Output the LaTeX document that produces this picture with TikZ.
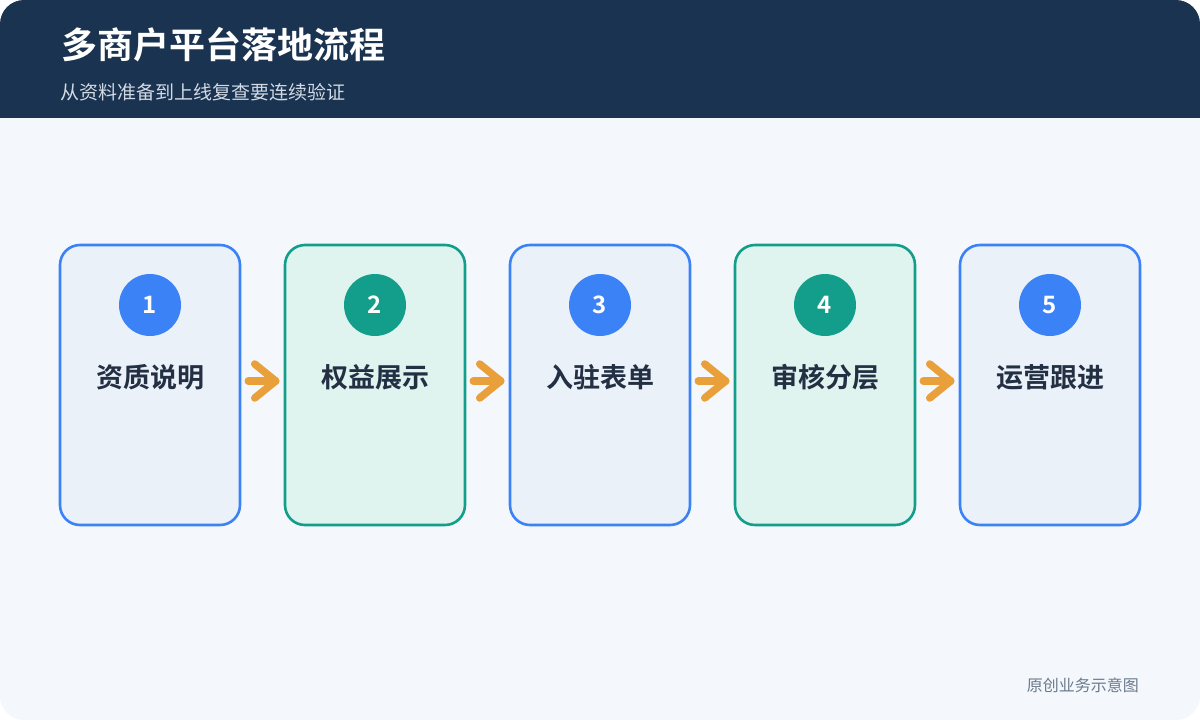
\documentclass[tikz,border=0pt]{standalone}
\usepackage{fontspec}
\setmainfont{Noto Sans CJK SC}
\newfontfamily\cjkb{Noto Sans CJK SC Bold}
\definecolor{hdr}{HTML}{1A3350}
\definecolor{bodybg}{HTML}{F4F8FD}
\definecolor{bblue}{HTML}{3B82F6}
\definecolor{fblue}{HTML}{EAF1F9}
\definecolor{bgreen}{HTML}{129E8A}
\definecolor{fgreen}{HTML}{DFF3EF}
\definecolor{arr}{HTML}{E9A03B}
\definecolor{txt}{HTML}{233044}
\definecolor{sub}{HTML}{D2DAE5}
\definecolor{foot}{HTML}{6B7A8C}
\tikzset{
  card/.style={draw=#1, line width=2.6pt, rounded corners=20pt, minimum width=180pt, minimum height=280pt, inner sep=0pt},
  numc/.style={circle, fill=#1, minimum size=62pt, inner sep=0pt, text=white, font=\cjkb\fontsize{24}{24}\selectfont},
  lbl/.style={text=txt, font=\cjkb\fontsize{27}{29}\selectfont, inner sep=0pt},
  chev/.style={draw=arr, line width=7.5pt, line cap=round, line join=round},
}
\begin{document}
\begin{tikzpicture}[x=1pt,y=-1pt]
\useasboundingbox (0,0) rectangle (1200,720);
\fill[white] (0,0) rectangle (1200,720);
\begin{scope}
\clip[rounded corners=24pt] (0,0) rectangle (1200,720);
\fill[bodybg] (0,0) rectangle (1200,720);
\fill[hdr] (0,0) rectangle (1200,118);
\end{scope}
\node[anchor=west, text=white, font=\cjkb\fontsize{36}{38}\selectfont, inner sep=0pt] (title) at (61,45) {多商户平台落地流程};
\node[anchor=west, text=sub, font=\fontsize{19}{21}\selectfont, inner sep=0pt] (subtitle) at (60,92) {从资料准备到上线复查要连续验证};
\node[anchor=east, text=foot, font=\fontsize{16}{18}\selectfont, inner sep=0pt] (footer) at (1139,685) {原创业务示意图};
\foreach \i/\t/\c/\f in {1/资质说明/bblue/fblue, 2/权益展示/bgreen/fgreen, 3/入驻表单/bblue/fblue, 4/审核分层/bgreen/fgreen, 5/运营跟进/bblue/fblue}{
  \pgfmathsetmacro{\cx}{150+225*(\i-1)}
  \node[card=\c, fill=\f] (card\i) at (\cx,385) {};
  \node[numc=\c] (num\i) at (\cx,305) {\i};
  \node[lbl] (lbl\i) at (\cx,377) {\t};
}
\foreach \i [evaluate=\i as \j using int(\i+1)] in {1,2,3,4}{
  \coordinate (a\i) at ([xshift=7pt,yshift=4pt]card\i.east);
  \coordinate (b\i) at ([xshift=-8pt,yshift=4pt]card\j.west);
  \draw[chev] (a\i) -- (b\i);
  \draw[chev] ([xshift=-21pt,yshift=-17pt]b\i) -- (b\i) -- ([xshift=-21pt,yshift=17pt]b\i);
}
\end{tikzpicture}
\end{document}
